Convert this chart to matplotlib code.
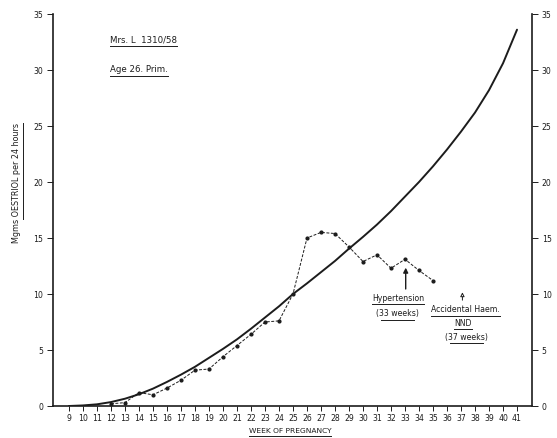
import matplotlib
matplotlib.use("Agg")
import matplotlib.pyplot as plt
from matplotlib.lines import Line2D

# Gestation weeks shown on the x-axis
weeks = list(range(9, 42))

# Mean normal oestriol excretion curve (mg per 24 h), one value per week 9..41
normal_weeks = list(range(9, 42))
normal_mg = [0.0, 0.05, 0.15, 0.35, 0.65, 1.05, 1.55, 2.15, 2.8, 3.5, 4.3, 5.1, 5.95,
             6.9, 7.9, 8.9, 10.0, 10.95, 11.95, 12.95, 14.05, 15.1, 16.2, 17.4, 18.7,
             20.0, 21.4, 22.9, 24.5, 26.2, 28.2, 30.6, 33.6]

# Patient's measured oestriol excretion
patient_weeks = [12, 13, 14, 15, 16, 17, 18, 19, 20, 21, 22, 23, 24, 25,
                 26, 27, 28, 29, 30, 31, 32, 33, 34, 35]
patient_mg = [0.2, 0.3, 1.2, 1.0, 1.6, 2.3, 3.2, 3.3, 4.4, 5.4, 6.4, 7.5, 7.6, 10.0,
              15.0, 15.5, 15.4, 14.2, 12.9, 13.5, 12.3, 13.1, 12.1, 11.2]

y_ticks = [0, 5, 10, 15, 20, 25, 30, 35]

W, H = 557, 438
fig = plt.figure(figsize=(W / 100, H / 100), dpi=100)
ax = fig.add_axes([53 / W, 1 - 406 / H, (532 - 53) / W, (406 - 14) / H])

ink = "#1c1c1c"
fs = 5.6

ax.plot(normal_weeks, normal_mg, color=ink, lw=1.4, solid_capstyle="round")
ax.plot(patient_weeks, patient_mg, color=ink, lw=0.7, ls=(0, (3, 1.6)),
        marker="o", ms=2.0, mfc=ink, mec=ink)

ax.set_xlim(7.86, 42.07)
ax.set_ylim(0, 35)
ax.set_xticks(weeks)
ax.set_xticklabels([str(w) for w in weeks], fontsize=fs, color=ink)
ax.set_yticks(y_ticks)
ax.set_yticklabels([str(v) for v in y_ticks], fontsize=fs, color=ink)
ax.tick_params(axis="x", length=3.5, width=0.7, pad=2, color=ink)
ax.tick_params(axis="y", length=4, width=0.7, pad=3, color=ink,
               left=True, right=True, labelleft=True, labelright=True)
ax.spines["top"].set_visible(False)
for s in ["left", "right", "bottom"]:
    ax.spines[s].set_linewidth(1.2)
    ax.spines[s].set_color(ink)

fig.canvas.draw()
renderer = fig.canvas.get_renderer()


def underline(txt, lw=0.7, gap=1.5, part=None):
    """Draw a line just below a text object (in figure pixels)."""
    bb = txt.get_window_extent(renderer)
    x0, x1 = bb.x0, bb.x1
    if part is not None:
        x0 = bb.x0 + part[0] * bb.width
        x1 = bb.x0 + part[1] * bb.width
    y = bb.y0 - gap
    fig.add_artist(Line2D([x0 / W, x1 / W], [y / H, y / H],
                          transform=fig.transFigure, color=ink, lw=lw))


def add_text(x, y, s, ha="center", size=fs, ul=True, part=None, **kw):
    t = ax.text(x, y, s, ha=ha, va="center", fontsize=size, color=ink, **kw)
    if ul:
        fig.canvas.draw()
        underline(t, part=part)
    return t


add_text(11.93, 32.7, "Mrs. L  1310/58", ha="left", size=6.2)
add_text(11.93, 30.0, "Age 26. Prim.", ha="left", size=6.2)

# Hypertension marker
ax.annotate("", xy=(33.05, 12.6), xytext=(33.05, 10.2),
            arrowprops=dict(arrowstyle="-|>", color=ink, lw=1.0,
                            mutation_scale=7))
add_text(32.5, 9.6, "Hypertension")
add_text(32.45, 8.25, "(33 weeks)", part=(0.12, 0.88))

# Accidental haemorrhage / neonatal death marker
ax.annotate("", xy=(37.1, 10.4), xytext=(37.1, 9.2),
            arrowprops=dict(arrowstyle="-|>", color=ink, lw=0.7,
                            mutation_scale=6, fc="white"))
add_text(37.3, 8.6, "Accidental Haem.")
add_text(37.15, 7.4, "NND")
add_text(37.4, 6.15, "(37 weeks)", part=(0.12, 0.88))

# Axis titles
t = fig.text(290 / W, 1 - 431 / H, "WEEK OF PREGNANCY", ha="center", va="center",
             fontsize=5.4, color=ink)
fig.canvas.draw()
underline(t)

t = fig.text(17 / W, 1 - 183 / H, "Mgms OESTRIOL per 24 hours", ha="center",
             va="center", rotation=90, fontsize=5.8, color=ink)
fig.canvas.draw()
bb = t.get_window_extent(renderer)
xl = bb.x1 + 1.2
fig.add_artist(Line2D([xl / W, xl / W],
                      [(bb.y0 + 0.2 * bb.height) / H, bb.y1 / H],
                      transform=fig.transFigure, color=ink, lw=0.7))

fig.savefig("out.png", dpi=100, facecolor="white")
